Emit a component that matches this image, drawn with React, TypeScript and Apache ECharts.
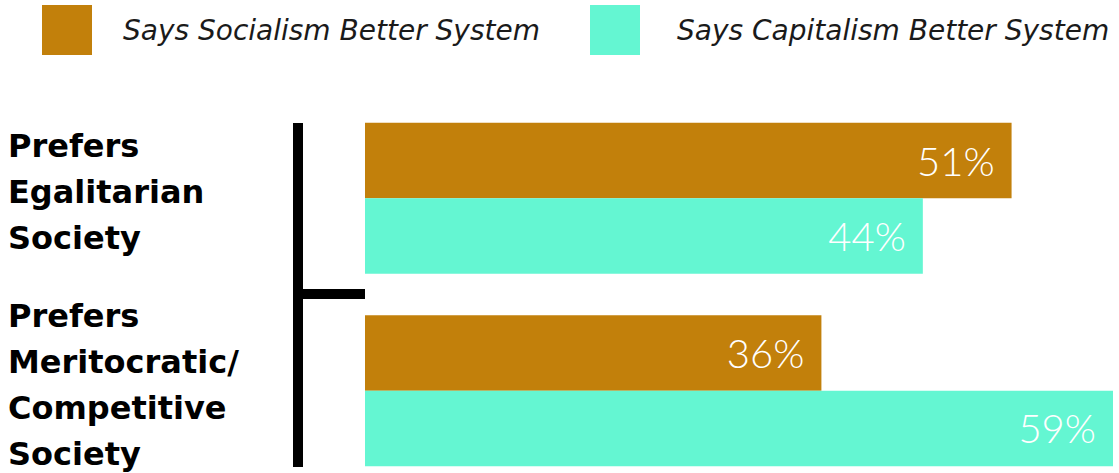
import React, { useEffect, useRef } from "react";
import * as echarts from "echarts";

const categories = ["Prefers\nEgalitarian\nSociety", "Prefers\nMeritocratic/\nCompetitive\nSociety"];
const seriesNames = ["Says Socialism Better System", "Says Capitalism Better System"];
const socialismValues = [51, 36];
const capitalismValues = [44, 59];
const colors = ["#C2800B", "#64F6D2"];

export default function App() {
  const ref = useRef<HTMLDivElement>(null);
  useEffect(() => {
    if (!ref.current) return;
    const chart = echarts.init(ref.current, null, { renderer: "svg" });
    const gridLeft = 365;
    const gridTop = 102;
    const gridHeight = 385;
    const legendText = {
      fontFamily: "DejaVu Sans",
      fontStyle: "italic" as const,
      fontSize: 28,
      color: "#1a1a1a",
    };
    const valueLabel = {
      show: true,
      position: "insideRight" as const,
      distance: 17,
      formatter: "{c}%",
      color: "#ffffff",
      fontFamily: "Lato",
      fontWeight: 300,
      fontSize: 40,
    };
    const catFont = {
      fontFamily: "DejaVu Sans",
      fontWeight: "bold" as const,
      fontSize: 32,
      lineHeight: 46,
      color: "#000000",
    };
    chart.setOption({
      animation: false,
      backgroundColor: "#ffffff",
      legend: [
        {
          left: 42,
          top: 5,
          padding: 0,
          itemWidth: 50,
          itemHeight: 50,
          icon: "rect",
          data: [seriesNames[0]],
          textStyle: { ...legendText, padding: [0, 0, 0, 26] },
          selectedMode: false,
        },
        {
          left: 590,
          top: 5,
          padding: 0,
          itemWidth: 50,
          itemHeight: 50,
          icon: "rect",
          data: [seriesNames[1]],
          textStyle: { ...legendText, padding: [0, 0, 0, 32] },
          selectedMode: false,
        },
      ],
      grid: { left: gridLeft, top: gridTop, height: gridHeight, right: 6 },
      xAxis: {
        type: "value",
        min: 0,
        max: 59,
        show: false,
      },
      yAxis: {
        type: "category",
        inverse: true,
        data: categories,
        axisLine: { show: false },
        axisTick: { show: false },
        axisLabel: {
          align: "left",
          margin: gridLeft - 8,
          ...catFont,
          formatter: (v: string) =>
            v
              .split("\n")
              .map((line) => `{t|${line}}`)
              .join("\n") + "\n{s|}",
          rich: {
            t: { ...catFont },
            s: { lineHeight: 12, fontSize: 1 },
          },
        },
      },
      graphic: [
        {
          type: "line",
          shape: { x1: 298, y1: 123, x2: 298, y2: 467 },
          style: { stroke: "#000000", lineWidth: 10 },
        },
        {
          type: "line",
          shape: { x1: 298, y1: 294, x2: gridLeft, y2: 294 },
          style: { stroke: "#000000", lineWidth: 10 },
        },
      ],
      series: [
        {
          name: seriesNames[0],
          type: "bar",
          data: socialismValues,
          itemStyle: { color: colors[0] },
          barGap: "0%",
          barCategoryGap: "21.6%",
          label: valueLabel,
        },
        {
          name: seriesNames[1],
          type: "bar",
          data: capitalismValues,
          itemStyle: { color: colors[1] },
          barGap: "0%",
          barCategoryGap: "21.6%",
          label: valueLabel,
        },
      ],
    });
    return () => chart.dispose();
  }, []);
  return <div ref={ref} style={{ position: "fixed", left: 0, top: 0, width: 1119, height: 500 }} />;
}
